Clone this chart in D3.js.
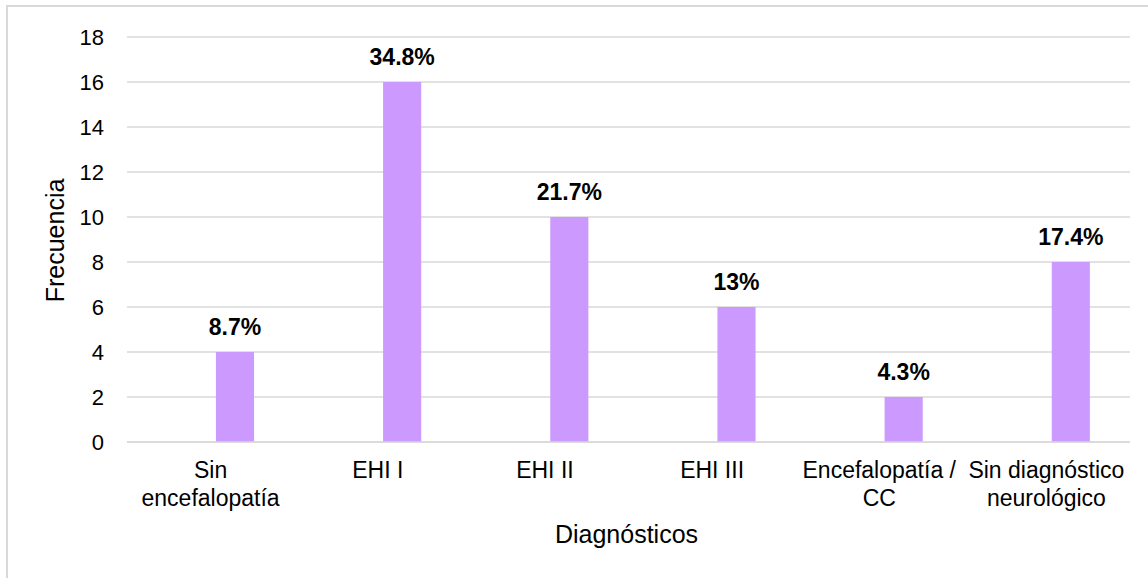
<!DOCTYPE html>
<html>
<head>
<meta charset="utf-8">
<script src="https://cdn.jsdelivr.net/npm/d3@7"></script>
<style>
  html, body { margin: 0; padding: 0; background: #fff; }
  svg { display: block; font-family: Arial, "Liberation Sans", sans-serif; }
</style>
</head>
<body>
<svg id="chart" width="1148" height="578"></svg>
<script>
const categories = [["Sin", "encefalopatía"], ["EHI I"], ["EHI II"], ["EHI III"], ["Encefalopatía /", "CC"], ["Sin diagnóstico", "neurológico"]];
const frequencies = [4, 16, 10, 6, 2, 8];
const percentLabels = ["8.7%", "34.8%", "21.7%", "13%", "4.3%", "17.4%"];
const yTicks = [0, 2, 4, 6, 8, 10, 12, 14, 16, 18];
const xTitle = "Diagnósticos";
const yTitle = "Frecuencia";

const svg = d3.select("#chart");
const W = 1148, H = 578;
const mLeft = 127, mRight = 1130, mTop = 37, mBottom = 442;

svg.append("rect").attr("x", 7).attr("y", 6).attr("width", W + 20).attr("height", H + 20)
  .attr("fill", "#fff").attr("stroke", "#D9D9D9").attr("stroke-width", 2);

const keys = categories.map((c, i) => i);
const x = d3.scaleBand().domain(keys).range([mLeft, mRight]).padding(0);
const y = d3.scaleLinear().domain([0, 18]).range([mBottom, mTop]);

// gridlines
svg.append("g").selectAll("line").data(yTicks).join("line")
  .attr("x1", mLeft).attr("x2", mRight)
  .attr("y1", d => y(d)).attr("y2", d => y(d))
  .attr("stroke", "#D9D9D9").attr("stroke-width", 1.5);

// y tick labels
svg.append("g").selectAll("text").data(yTicks).join("text")
  .attr("x", 104).attr("y", d => y(d)).attr("dy", "0.36em")
  .attr("text-anchor", "end").attr("font-size", 22).attr("fill", "#000")
  .text(d => d);

// bars
const bw = x.bandwidth();
svg.append("g").selectAll("rect").data(frequencies).join("rect")
  .attr("x", (d, i) => x(i) + bw * 0.532)
  .attr("width", bw * 0.228)
  .attr("y", d => y(d))
  .attr("height", d => y(0) - y(d))
  .attr("fill", "#CC99FF");

// baseline drawn over bars
svg.append("line").attr("x1", mLeft).attr("x2", mRight).attr("y1", y(0)).attr("y2", y(0))
  .attr("stroke", "#D9D9D9").attr("stroke-width", 1.5);

// value labels
svg.append("g").selectAll("text").data(frequencies).join("text")
  .attr("x", (d, i) => x(i) + bw * 0.532 + bw * 0.114)
  .attr("y", d => y(d) - 17)
  .attr("text-anchor", "middle").attr("font-size", 23).attr("font-weight", "bold").attr("fill", "#000")
  .text((d, i) => percentLabels[i]);

// category labels
const cat = svg.append("g").selectAll("text").data(categories).join("text")
  .attr("x", (d, i) => x(i) + bw / 2)
  .attr("y", 478)
  .attr("text-anchor", "middle").attr("font-size", 23).attr("fill", "#000");
cat.selectAll("tspan").data(d => d).join("tspan")
  .attr("x", function () { return d3.select(this.parentNode).attr("x"); })
  .attr("dy", (d, j) => j === 0 ? 0 : 28)
  .text(d => d);

// axis titles
svg.append("text").attr("x", (mLeft + mRight) / 2 - 2).attr("y", 543)
  .attr("text-anchor", "middle").attr("font-size", 25).attr("fill", "#000").text(xTitle);
svg.append("text").attr("transform", `translate(64, ${(mTop + mBottom) / 2 + 1}) rotate(-90)`)
  .attr("text-anchor", "middle").attr("font-size", 25).attr("fill", "#000").text(yTitle);
</script>
</body>
</html>
